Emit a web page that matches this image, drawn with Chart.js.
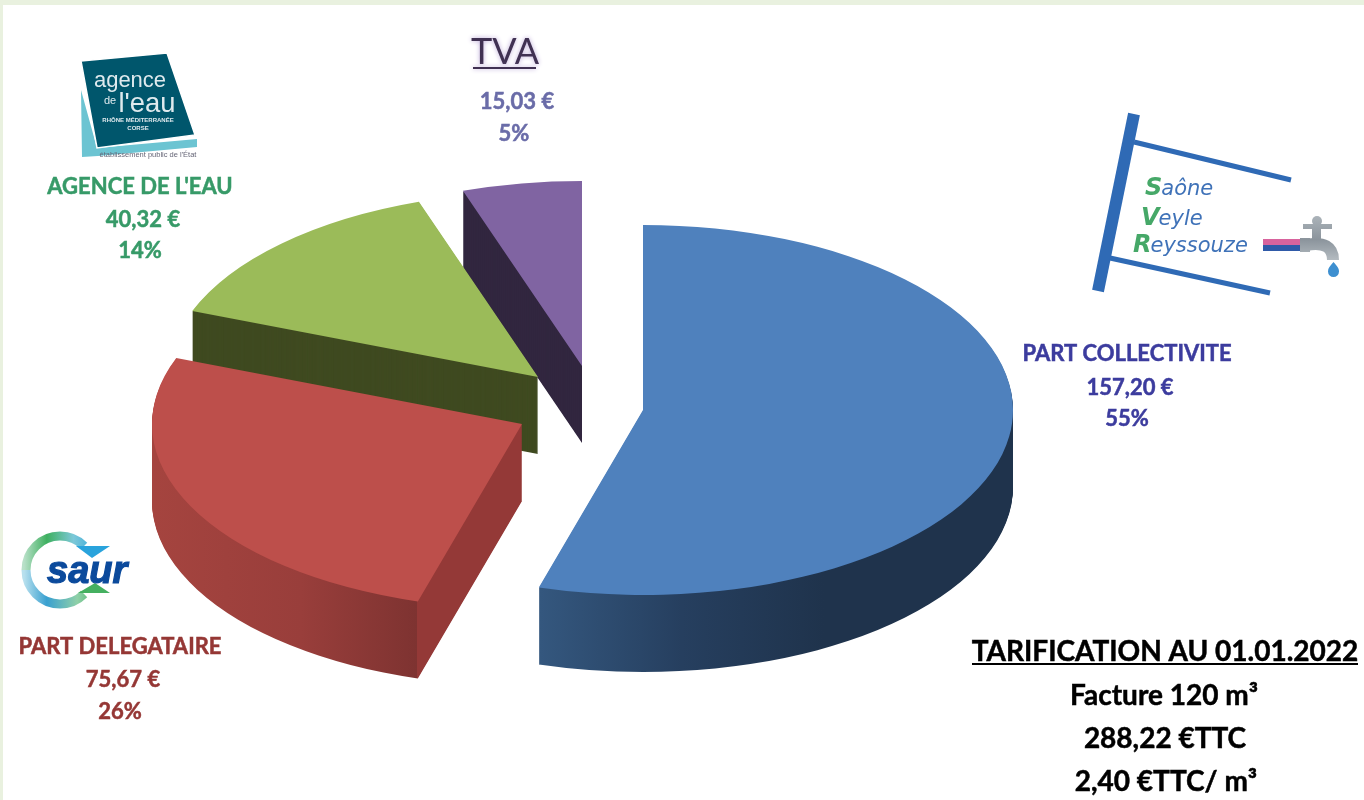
<!DOCTYPE html>
<html lang="fr">
<head>
  <meta charset="UTF-8">
  <title>Tarification au 01.01.2022</title>
  <script src="https://cdn.jsdelivr.net/npm/chart.js"></script>
  <style>
    html, body { margin: 0; background: #fff; overflow: hidden; }
    canvas { display: block; }
  </style>
</head>
<body>
  <canvas id="pieChart" width="1364" height="800"></canvas>

  <script>
    const categories = ['PART COLLECTIVITE', 'PART DELEGATAIRE', "AGENCE DE L'EAU", 'TVA'];
    const amounts = [157.20, 75.67, 40.32, 15.03];
    const infoLines = ['TARIFICATION AU 01.01.2022', 'Facture 120 m³', '288,22 €TTC', '2,40 €TTC/ m³'];

    const topColors = ['#4f81bd', '#bd4f4b', '#9bbb59', '#8064a2'];
    const textColors = ['#3c3c9e', '#953735', '#379a68', '#6a6ca8'];

    // where the tip of each slice lands on the page (the slices are not exploded radially)
    const tips = [[643, 410], [522, 424], [538, 377], [582, 366]];
    const labelPos = [
      [[1127, 354], [1130, 388], [1127, 419]],
      [[120, 647], [123, 680], [120, 712]],
      [[140, 187], [143, 220], [140, 251]],
      [[505, 52], [517, 102], [514, 134]]
    ];
    const squash = 0.5;
    const depth = 77;

    const total = amounts.reduce((a, b) => a + b, 0);

    function wallFill(ctx, i) {
      if (i == 0) {
        const g = ctx.createLinearGradient(540, 0, 1013, 0);
        g.addColorStop(0, '#34577e');
        g.addColorStop(0.3, '#263f5f');
        g.addColorStop(0.6, '#1f334c');
        g.addColorStop(1, '#1f334c');
        return g;
      }
      if (i == 1) {
        // hard stop at the corner: the cut face is a flat colour
        const g = ctx.createLinearGradient(153, 0, 522, 0);
        g.addColorStop(0, '#a5443f');
        g.addColorStop(0.4, '#993e3b');
        g.addColorStop(0.715, '#7e3331');
        g.addColorStop(0.716, '#943937');
        g.addColorStop(1, '#943937');
        return g;
      }
      return i == 2 ? '#3f4a20' : '#31263f';
    }

    function boldText(ctx, txt, x, y, weight) {
      ctx.lineWidth = weight;
      ctx.strokeStyle = ctx.fillStyle;
      ctx.fillText(txt, x, y);
      ctx.strokeText(txt, x, y);
    }

    function drawLogoAgence(ctx) {
      ctx.fillStyle = '#6cc4d2';
      poly(ctx, [[81, 90], [97, 148], [197, 139], [197, 147], [98, 156], [82, 157]]);
      ctx.strokeStyle = '#fff';
      ctx.lineWidth = 1.5;
      ctx.fillStyle = '#00566c';
      poly(ctx, [[81, 61], [167, 53], [195, 135], [97, 148]]);
      ctx.stroke();
      ctx.textAlign = 'center';
      ctx.textBaseline = 'alphabetic';
      ctx.fillStyle = '#dfeaee';
      ctx.font = '22px "Liberation Sans"';
      ctx.fillText('agence', 130, 87);
      ctx.font = '11px "Liberation Sans"';
      ctx.fillText('de', 110, 104);
      ctx.font = '28px "Liberation Sans"';
      ctx.fillText("l'eau", 147, 112, 57);
      ctx.font = 'bold 6px "Liberation Sans"';
      ctx.fillText('RHÔNE MÉDITERRANÉE', 138, 122, 84);
      ctx.fillText('CORSE', 138, 130);
      ctx.fillStyle = '#667';
      ctx.font = '7.5px "Liberation Sans"';
      ctx.fillText("établissement public de l'État", 148, 157, 100);
    }

    function drawLogoSaur(ctx) {
      ctx.lineWidth = 9;
      let g = ctx.createLinearGradient(24, 0, 100, 0);
      g.addColorStop(0, '#b8e0c8');
      g.addColorStop(0.3, '#3fb060');
      g.addColorStop(0.65, '#7cc8d8');
      g.addColorStop(1, '#29a3dc');
      ctx.strokeStyle = g;
      ctx.beginPath();
      ctx.arc(60, 570, 34, Math.PI, Math.PI * 1.75);
      ctx.stroke();
      ctx.fillStyle = '#29a3dc';
      poly(ctx, [[76, 546], [110, 546], [92, 558]]);
      g = ctx.createLinearGradient(24, 0, 100, 0);
      g.addColorStop(0, '#b8e0ee');
      g.addColorStop(0.3, '#39a0d0');
      g.addColorStop(0.7, '#8fd0a8');
      g.addColorStop(1, '#45b060');
      ctx.strokeStyle = g;
      ctx.beginPath();
      ctx.arc(60, 570, 34, Math.PI * 0.25, Math.PI);
      ctx.stroke();
      ctx.fillStyle = '#45b060';
      poly(ctx, [[78, 593], [110, 593], [95, 583]]);
      ctx.fillStyle = '#0b4a9c';
      ctx.textAlign = 'left';
      ctx.textBaseline = 'alphabetic';
      ctx.font = 'italic bold 38px "Liberation Sans"';
      ctx.lineWidth = 1.2;
      ctx.strokeStyle = '#0b4a9c';
      ctx.fillText('saur', 47, 583, 88);
      ctx.strokeText('saur', 47, 583, 88);
    }

    function drawLogoSign(ctx) {
      ctx.strokeStyle = '#2f6ab5';
      ctx.lineWidth = 12;
      line(ctx, 1134, 114, 1098, 291);
      ctx.lineWidth = 5;
      line(ctx, 1134, 142, 1291, 180);
      line(ctx, 1110, 258, 1270, 293);
      const rows = [['S', 'aône', 1145, 195], ['V', 'eyle', 1141, 225], ['R', 'eyssouze', 1133, 252]];
      ctx.textAlign = 'left';
      ctx.textBaseline = 'alphabetic';
      for (const [first, rest, x, y] of rows) {
        ctx.font = 'italic bold 24px "DejaVu Sans"';
        ctx.fillStyle = '#46a868';
        ctx.fillText(first, x, y);
        const w = ctx.measureText(first).width;
        ctx.font = 'italic 21px "DejaVu Sans"';
        ctx.fillStyle = '#3f72b8';
        ctx.fillText(rest, x + w - 1, y);
      }
      // pipe and tap
      ctx.fillStyle = '#d8639d';
      ctx.fillRect(1263, 239, 37, 6);
      ctx.fillStyle = '#2f5aa8';
      ctx.fillRect(1263, 245, 37, 6);
      const steel = ctx.createLinearGradient(0, 217, 0, 262);
      steel.addColorStop(0, '#aab2b8');
      steel.addColorStop(0.5, '#8b949c');
      steel.addColorStop(1, '#b8bfc4');
      ctx.fillStyle = steel;
      ctx.strokeStyle = steel;
      ctx.fillRect(1300, 238, 10, 14);
      ctx.lineWidth = 12;
      ctx.beginPath();
      ctx.moveTo(1306, 245);
      ctx.quadraticCurveTo(1333, 240, 1333, 260);
      ctx.stroke();
      ctx.fillRect(1312, 226, 9, 14);
      ctx.fillRect(1303, 224, 29, 5);
      ctx.beginPath();
      ctx.arc(1317, 221, 5, 0, Math.PI * 2);
      ctx.fill();
      ctx.fillStyle = '#3d8fd0';
      ctx.beginPath();
      ctx.moveTo(1333.5, 262);
      ctx.bezierCurveTo(1337, 266, 1339, 268, 1339, 271);
      ctx.arc(1333.5, 271.5, 5.5, 0, Math.PI);
      ctx.bezierCurveTo(1328, 268, 1330, 266, 1333.5, 262);
      ctx.fill();
    }

    function poly(ctx, pts) {
      ctx.beginPath();
      pts.forEach((p, i) => i ? ctx.lineTo(p[0], p[1]) : ctx.moveTo(p[0], p[1]));
      ctx.closePath();
      ctx.fill();
    }

    function line(ctx, x1, y1, x2, y2) {
      ctx.beginPath();
      ctx.moveTo(x1, y1);
      ctx.lineTo(x2, y2);
      ctx.stroke();
    }

    // draws the slices tilted, back to front, each with its extruded wall
    const pie3d = {
      id: 'pie3d',
      beforeDatasetsDraw(chart) {
        const ctx = chart.ctx;
        const arcs = chart.getDatasetMeta(0).data;
        for (let i = arcs.length - 1; i >= 0; i--) {
          const a = arcs[i];
          const ox = tips[i][0] - a.x;
          const oy = tips[i][1] - a.y * squash;
          const fill = wallFill(ctx, i);
          for (let d = depth; d >= 1; d--) {
            ctx.save();
            ctx.setTransform(1, 0, 0, squash, ox, oy + d);
            ctx.beginPath();
            ctx.moveTo(a.x, a.y);
            ctx.arc(a.x, a.y, a.outerRadius, a.startAngle, a.endAngle);
            ctx.closePath();
            ctx.restore();
            ctx.fillStyle = fill;
            ctx.fill();
          }
          ctx.save();
          ctx.setTransform(1, 0, 0, squash, ox, oy);
          a.draw(ctx);
          ctx.restore();
        }
        return false;
      },
      afterDraw(chart) {
        const ctx = chart.ctx;
        ctx.save();
        ctx.fillStyle = '#e9f1df';
        ctx.fillRect(0, 0, 1364, 5);
        ctx.fillRect(0, 0, 3, 800);

        ctx.textAlign = 'center';
        ctx.textBaseline = 'middle';
        categories.forEach((name, i) => {
          const pos = labelPos[i];
          const lines = [name, amounts[i].toFixed(2).replace('.', ',') + ' €', Math.round(amounts[i] / total * 100) + '%'];
          lines.forEach((txt, j) => {
            ctx.font = 'bold 22px Lato';
            ctx.fillStyle = textColors[i];
            if (name == 'TVA' && j == 0) {
              ctx.font = '36px Lato';
              ctx.fillStyle = '#403152';
              ctx.shadowColor = '#b9a6d6';
              ctx.shadowBlur = 5;
              ctx.fillText(txt, pos[j][0], pos[j][1]);
              ctx.shadowBlur = 0;
            } else {
              boldText(ctx, txt, pos[j][0], pos[j][1], 0.5);
            }
          });
        });
        ctx.fillStyle = '#403152';
        ctx.shadowColor = '#b9a6d6';
        ctx.shadowBlur = 5;
        ctx.fillRect(473, 67, 63, 2);
        ctx.shadowBlur = 0;

        // info block bottom right
        ctx.fillStyle = '#000';
        ctx.font = 'bold 28px Lato';
        boldText(ctx, infoLines[0], 1165, 652, 0.5);
        ctx.fillRect(972, 663, 386, 2);
        boldText(ctx, infoLines[1], 1164, 696, 0.5);
        boldText(ctx, infoLines[2], 1165, 739, 0.5);
        boldText(ctx, infoLines[3], 1166, 782, 0.5);

        drawLogoAgence(ctx);
        drawLogoSaur(ctx);
        drawLogoSign(ctx);
        ctx.restore();
      }
    };

    new Chart(document.getElementById('pieChart'), {
      type: 'pie',
      data: {
        labels: categories,
        datasets: [{
          data: amounts,
          backgroundColor: topColors,
          borderWidth: 0
        }]
      },
      options: {
        responsive: false,
        animation: false,
        radius: 370,
        plugins: {
          legend: { display: false },
          tooltip: { enabled: false }
        }
      },
      plugins: [pie3d]
    });
  </script>
</body>
</html>
